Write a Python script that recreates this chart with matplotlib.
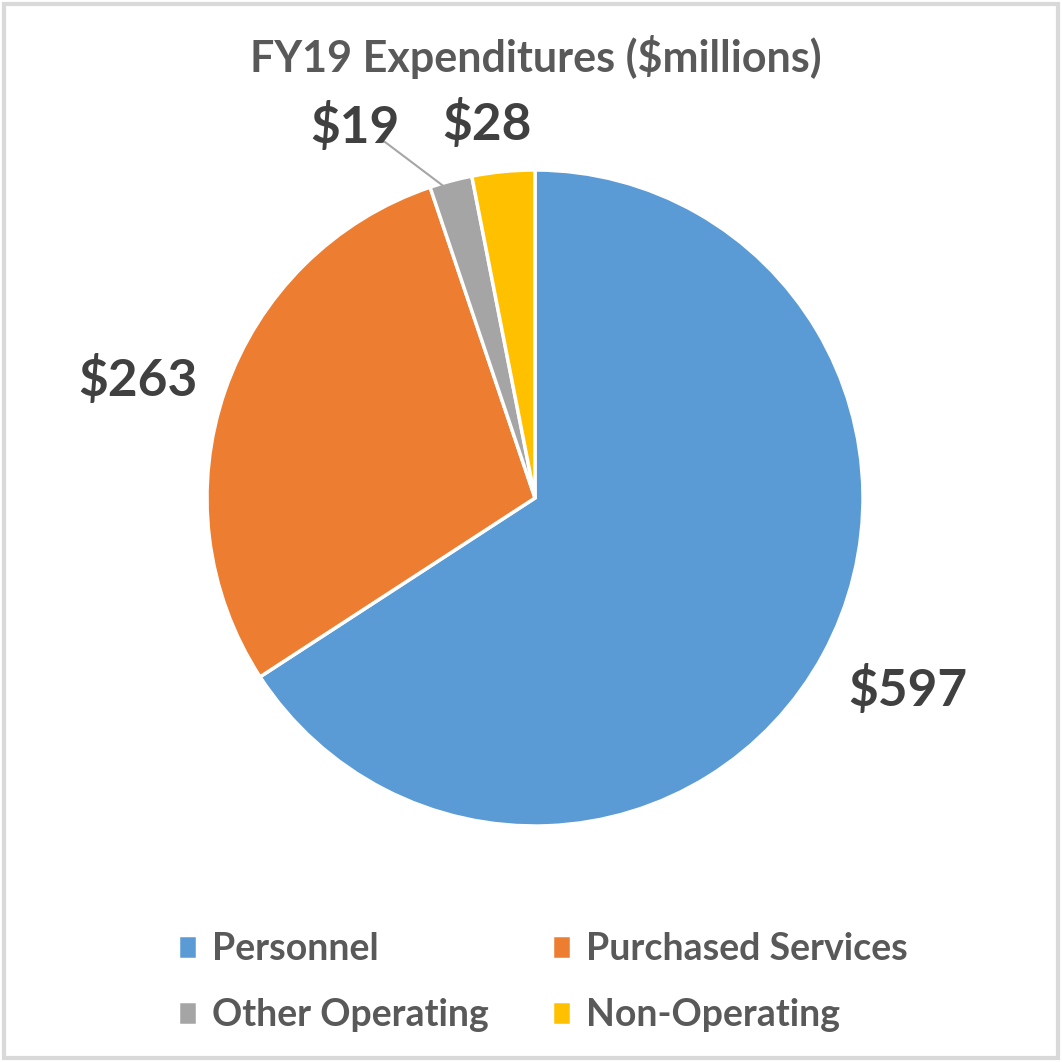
import matplotlib
matplotlib.use("Agg")
import matplotlib.pyplot as plt
from matplotlib.patches import Rectangle

categories = ['Personnel', 'Purchased Services', 'Other Operating', 'Non-Operating']
values = [597, 263, 19, 28]
labels = ['$597', '$263', '$19', '$28']
colors = ['#5B9BD5', '#ED7D31', '#A5A5A5', '#FFC000']

plt.rcParams['font.family'] = ['Lato', 'DejaVu Sans']

W = 1062
fig = plt.figure(figsize=(10.62, 10.62), dpi=100)
ax = fig.add_axes([0, 0, 1, 1])

# pixel coords -> data coords (y flipped)
cx, cy, r = 535, W - 498, 328
wedges, _ = ax.pie(values, colors=colors, startangle=90, counterclock=False,
                   center=(cx, cy), radius=r, frame=True,
                   wedgeprops=dict(edgecolor='white', linewidth=2.5))
ax.set_xlim(0, W)
ax.set_ylim(0, W)
ax.set_aspect('equal')
ax.axis('off')

# data labels
lab_pos = [(908, 690), (138, 380), (355, 127), (487, 124)]
for t, (x, y) in zip(labels, lab_pos):
    ax.text(x, W - y, t, ha='center', va='center', fontsize=37,
            fontweight='bold', color='#404040')

# leader line for the small slice
ax.plot([377, 385, 446], [W - 142, W - 142, W - 188], color='#A6A6A6', lw=1.5)

ax.text(536, W - 57, 'FY19 Expenditures ($millions)', ha='center', va='center',
        fontsize=31, fontweight='bold', color='#595959')

# legend laid out row by row: legend fills column-major, so reorder
order = [0, 2, 1, 3]
leg = fig.legend([wedges[i] for i in order], [categories[i] for i in order],
                 loc='center', bbox_to_anchor=(0.511, (W - 982) / W),
                 ncol=2, frameon=False, fontsize=27,
                 handlelength=0.5, handleheight=0.6, handletextpad=0.4,
                 columnspacing=1.7, labelspacing=0.85, labelcolor='#595959')
for t in leg.get_texts():
    t.set_fontweight('bold')

# light outer border
ax.add_patch(Rectangle((4, 4), W - 8, W - 8, fill=False, edgecolor='#D9D9D9', lw=3))

fig.savefig('out.png', dpi=100, facecolor='white')
